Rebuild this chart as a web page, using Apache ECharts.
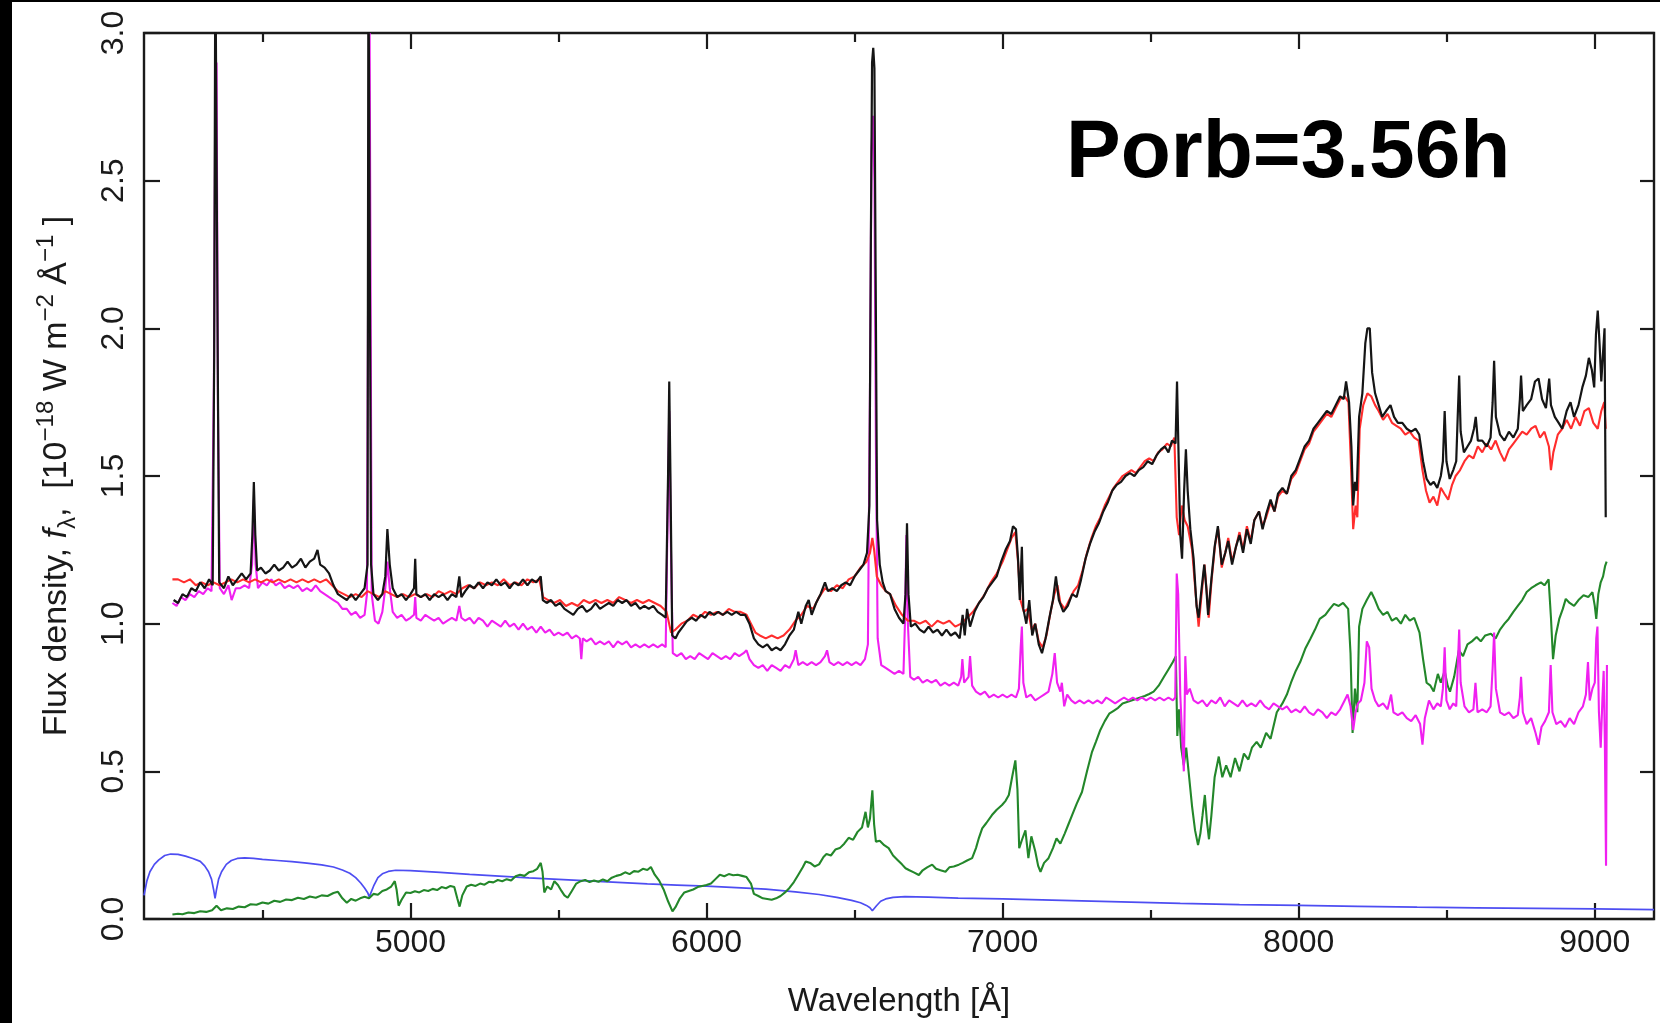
<!DOCTYPE html>
<html>
<head>
<meta charset="utf-8">
<title>Spectrum decomposition</title>
<script src="https://cdn.jsdelivr.net/npm/echarts@6/dist/echarts.min.js"></script>
<style>
  html, body { margin: 0; padding: 0; background: #fff; }
  #chart { width: 1660px; height: 1023px; }
</style>
</head>
<body>
<div id="chart"></div>
<script>
// Wavelength tick positions (Angstrom)
const waveMajorTicks = [5000, 6000, 7000, 8000, 9000];
const waveMinorTicks = [4500, 5500, 6500, 7500, 8500];

// Observed spectrum [wavelength, flux]
const observed = [
[4200,1.08],[4215,1.07],[4230,1.10],[4245,1.09],[4260,1.12],[4275,1.11],[4290,1.14],[4305,1.12],[4320,1.15],[4332,1.13],[4337,1.9],[4341,3.3],[4345,3.3],[4349,1.9],[4354,1.14],[4370,1.12],[4385,1.16],[4400,1.13],[4415,1.15],[4430,1.17],[4445,1.15],[4460,1.17],[4466,1.3],[4471,1.48],[4476,1.3],[4482,1.18],[4495,1.19],[4510,1.17],[4525,1.18],[4540,1.20],[4555,1.18],[4570,1.19],[4585,1.21],[4600,1.19],[4615,1.20],[4630,1.22],[4645,1.19],[4660,1.21],[4675,1.22],[4686,1.25],[4695,1.20],[4710,1.19],[4725,1.17],[4740,1.13],[4755,1.10],[4770,1.09],[4785,1.08],[4800,1.10],[4815,1.08],[4830,1.10],[4845,1.12],[4855,1.2],[4858,3.3],[4864,3.3],[4867,1.2],[4875,1.10],[4890,1.08],[4905,1.10],[4915,1.16],[4922,1.32],[4930,1.20],[4940,1.12],[4955,1.09],[4970,1.10],[4985,1.08],[5000,1.10],[5012,1.12],[5016,1.22],[5020,1.10],[5035,1.09],[5050,1.10],[5065,1.08],[5080,1.10],[5095,1.09],[5110,1.10],[5125,1.08],[5140,1.10],[5155,1.09],[5165,1.16],[5172,1.09],[5185,1.11],[5200,1.13],[5215,1.12],[5230,1.14],[5245,1.12],[5260,1.14],[5275,1.13],[5290,1.15],[5305,1.13],[5320,1.14],[5335,1.12],[5350,1.14],[5365,1.13],[5380,1.15],[5395,1.13],[5410,1.15],[5425,1.14],[5440,1.16],[5447,1.08],[5460,1.07],[5475,1.08],[5490,1.06],[5505,1.07],[5520,1.05],[5535,1.04],[5550,1.03],[5565,1.05],[5580,1.06],[5595,1.04],[5610,1.05],[5625,1.07],[5640,1.05],[5655,1.06],[5670,1.07],[5685,1.06],[5700,1.08],[5715,1.07],[5730,1.08],[5745,1.06],[5760,1.07],[5775,1.05],[5790,1.06],[5805,1.05],[5820,1.06],[5835,1.04],[5850,1.03],[5862,1.02],[5870,1.5],[5874,1.82],[5878,1.5],[5884,0.96],[5895,0.95],[5905,0.97],[5920,0.99],[5935,1.01],[5950,1.02],[5965,1.01],[5980,1.03],[5995,1.02],[6010,1.04],[6025,1.03],[6040,1.04],[6055,1.03],[6070,1.04],[6085,1.03],[6100,1.04],[6115,1.03],[6130,1.03],[6145,1.00],[6160,0.95],[6175,0.93],[6190,0.92],[6205,0.93],[6220,0.91],[6235,0.92],[6250,0.91],[6265,0.93],[6280,0.96],[6295,0.98],[6310,1.04],[6320,1.00],[6335,1.06],[6345,1.08],[6355,1.03],[6370,1.07],[6385,1.10],[6400,1.14],[6410,1.11],[6425,1.12],[6440,1.11],[6455,1.13],[6470,1.14],[6485,1.13],[6500,1.16],[6515,1.18],[6530,1.20],[6542,1.24],[6550,1.4],[6555,2.3],[6559,2.9],[6563,2.95],[6567,2.88],[6571,2.2],[6576,1.35],[6585,1.20],[6595,1.14],[6605,1.11],[6620,1.10],[6635,1.05],[6650,1.02],[6665,1.00],[6672,1.1],[6677,1.34],[6682,1.1],[6690,0.99],[6705,1.00],[6720,0.98],[6735,0.97],[6750,0.99],[6765,0.97],[6780,0.98],[6795,0.96],[6810,0.98],[6825,0.96],[6840,0.97],[6855,0.95],[6865,1.03],[6872,0.96],[6880,1.05],[6890,0.99],[6905,1.04],[6920,1.07],[6935,1.09],[6950,1.12],[6965,1.14],[6980,1.16],[6995,1.21],[7010,1.25],[7025,1.28],[7035,1.33],[7045,1.32],[7052,1.22],[7058,1.08],[7065,1.26],[7070,1.05],[7080,1.00],[7090,1.08],[7100,0.96],[7110,1.00],[7122,0.93],[7133,0.90],[7145,0.95],[7158,1.02],[7170,1.08],[7180,1.16],[7190,1.08],[7205,1.04],[7220,1.06],[7235,1.10],[7250,1.09],[7265,1.15],[7280,1.22],[7295,1.27],[7310,1.31],[7325,1.34],[7340,1.38],[7355,1.41],[7370,1.45],[7385,1.47],[7400,1.48],[7415,1.50],[7430,1.51],[7445,1.50],[7460,1.52],[7475,1.53],[7490,1.55],[7505,1.54],[7520,1.57],[7535,1.59],[7548,1.60],[7560,1.58],[7572,1.62],[7584,1.61],[7589,1.82],[7594,1.82],[7600,1.30],[7606,1.22],[7613,1.45],[7619,1.59],[7625,1.45],[7634,1.32],[7645,1.22],[7655,1.06],[7662,1.02],[7670,1.10],[7681,1.20],[7688,1.12],[7694,1.03],[7705,1.15],[7716,1.26],[7727,1.33],[7740,1.20],[7752,1.24],[7762,1.28],[7775,1.20],[7788,1.26],[7800,1.30],[7812,1.24],[7825,1.32],[7838,1.27],[7850,1.35],[7866,1.38],[7878,1.32],[7890,1.37],[7905,1.42],[7918,1.38],[7930,1.44],[7945,1.46],[7960,1.44],[7975,1.50],[7990,1.52],[8005,1.56],[8020,1.60],[8035,1.62],[8050,1.66],[8065,1.68],[8080,1.70],[8095,1.72],[8110,1.71],[8125,1.74],[8140,1.77],[8152,1.76],[8160,1.82],[8170,1.75],[8178,1.60],[8184,1.40],[8190,1.48],[8196,1.45],[8204,1.70],[8215,1.78],[8225,1.95],[8232,2.00],[8240,2.00],[8248,1.85],[8258,1.78],[8270,1.74],[8282,1.70],[8295,1.72],[8310,1.74],[8322,1.70],[8335,1.68],[8350,1.68],[8365,1.66],[8380,1.65],[8395,1.66],[8407,1.64],[8420,1.55],[8432,1.49],[8445,1.47],[8456,1.48],[8468,1.46],[8480,1.50],[8487,1.55],[8493,1.72],[8499,1.55],[8510,1.49],[8522,1.52],[8532,1.55],[8537,1.70],[8542,1.84],[8547,1.65],[8558,1.58],[8570,1.60],[8582,1.62],[8592,1.66],[8598,1.70],[8605,1.62],[8620,1.62],[8635,1.60],[8648,1.63],[8655,1.75],[8660,1.89],[8666,1.70],[8680,1.64],[8695,1.62],[8710,1.65],[8725,1.63],[8740,1.66],[8747,1.76],[8751,1.84],[8757,1.72],[8770,1.74],[8785,1.76],[8798,1.82],[8810,1.83],[8822,1.76],[8835,1.73],[8846,1.83],[8852,1.74],[8865,1.70],[8878,1.68],[8890,1.66],[8905,1.72],[8918,1.75],[8930,1.70],[8945,1.74],[8958,1.80],[8970,1.84],[8980,1.90],[8990,1.86],[8998,1.80],[9004,1.98],[9010,2.06],[9016,1.95],[9022,1.82],[9028,1.92],[9033,2.00],[9037,1.36]
];

// Summed model spectrum
const modelSum = [
[4196,1.15],[4215,1.15],[4235,1.14],[4255,1.15],[4275,1.13],[4295,1.14],[4315,1.13],[4335,1.14],[4355,1.13],[4375,1.14],[4395,1.15],[4415,1.14],[4435,1.15],[4455,1.14],[4475,1.15],[4495,1.14],[4515,1.15],[4535,1.14],[4555,1.15],[4575,1.14],[4595,1.15],[4615,1.14],[4635,1.15],[4655,1.14],[4675,1.15],[4695,1.14],[4715,1.15],[4735,1.13],[4755,1.11],[4775,1.10],[4795,1.09],[4815,1.10],[4835,1.09],[4855,1.11],[4875,1.10],[4895,1.09],[4915,1.11],[4935,1.10],[4955,1.09],[4975,1.10],[4995,1.09],[5015,1.10],[5035,1.09],[5055,1.10],[5075,1.09],[5095,1.11],[5115,1.10],[5135,1.11],[5155,1.10],[5175,1.12],[5195,1.13],[5215,1.12],[5235,1.14],[5255,1.13],[5275,1.14],[5295,1.13],[5315,1.15],[5335,1.13],[5355,1.14],[5375,1.13],[5395,1.15],[5415,1.14],[5435,1.15],[5448,1.09],[5465,1.08],[5485,1.07],[5505,1.08],[5525,1.06],[5545,1.07],[5565,1.06],[5585,1.08],[5605,1.07],[5625,1.08],[5645,1.07],[5665,1.08],[5685,1.07],[5705,1.09],[5725,1.08],[5745,1.07],[5765,1.08],[5785,1.07],[5805,1.08],[5825,1.07],[5845,1.06],[5865,1.04],[5880,0.97],[5895,0.98],[5915,1.00],[5935,1.01],[5955,1.03],[5975,1.02],[5995,1.04],[6015,1.03],[6035,1.04],[6055,1.03],[6075,1.05],[6095,1.04],[6115,1.04],[6135,1.03],[6150,1.00],[6165,0.97],[6180,0.96],[6200,0.95],[6220,0.96],[6240,0.95],[6260,0.96],[6280,0.98],[6300,1.01],[6320,1.03],[6340,1.06],[6360,1.05],[6380,1.09],[6400,1.12],[6420,1.11],[6440,1.13],[6460,1.12],[6480,1.15],[6500,1.16],[6520,1.19],[6540,1.21],[6552,1.24],[6560,1.29],[6566,1.25],[6575,1.16],[6590,1.13],[6605,1.11],[6620,1.10],[6640,1.06],[6660,1.03],[6680,1.01],[6700,1.01],[6720,1.00],[6740,1.01],[6760,0.99],[6780,1.01],[6800,1.00],[6820,1.01],[6840,0.99],[6860,1.00],[6880,1.02],[6900,1.04],[6920,1.07],[6940,1.10],[6960,1.14],[6980,1.17],[7000,1.21],[7015,1.25],[7030,1.29],[7043,1.31],[7052,1.21],[7060,1.08],[7072,1.04],[7085,1.05],[7098,0.98],[7110,1.00],[7122,0.94],[7135,0.92],[7148,0.96],[7162,1.04],[7175,1.10],[7185,1.13],[7195,1.07],[7210,1.05],[7225,1.08],[7240,1.11],[7255,1.13],[7270,1.18],[7285,1.24],[7300,1.29],[7315,1.33],[7330,1.36],[7345,1.40],[7360,1.43],[7375,1.46],[7390,1.48],[7405,1.50],[7420,1.51],[7435,1.52],[7450,1.51],[7465,1.53],[7480,1.55],[7495,1.56],[7510,1.55],[7525,1.58],[7540,1.59],[7555,1.61],[7568,1.60],[7580,1.63],[7588,1.36],[7596,1.30],[7605,1.40],[7615,1.35],[7625,1.33],[7640,1.25],[7652,1.10],[7662,0.99],[7672,1.10],[7682,1.20],[7690,1.10],[7696,1.02],[7706,1.15],[7718,1.27],[7728,1.32],[7740,1.19],[7752,1.24],[7762,1.29],[7775,1.21],[7788,1.26],[7800,1.31],[7812,1.25],[7825,1.33],[7838,1.28],[7850,1.35],[7866,1.38],[7878,1.33],[7890,1.36],[7905,1.41],[7918,1.38],[7930,1.43],[7945,1.45],[7960,1.44],[7975,1.49],[7990,1.51],[8005,1.55],[8020,1.59],[8035,1.61],[8050,1.65],[8065,1.67],[8080,1.69],[8095,1.71],[8110,1.70],[8125,1.73],[8140,1.76],[8155,1.77],[8168,1.75],[8176,1.55],[8184,1.32],[8192,1.40],[8198,1.36],[8206,1.66],[8218,1.74],[8232,1.78],[8245,1.77],[8258,1.74],[8270,1.72],[8285,1.69],[8300,1.71],[8315,1.68],[8330,1.67],[8345,1.66],[8360,1.64],[8375,1.65],[8390,1.63],[8405,1.62],[8418,1.52],[8430,1.45],[8442,1.41],[8455,1.43],[8468,1.40],[8480,1.46],[8492,1.44],[8505,1.42],[8518,1.47],[8530,1.50],[8545,1.52],[8560,1.55],[8575,1.57],[8590,1.56],[8605,1.60],[8620,1.58],[8635,1.61],[8650,1.59],[8665,1.62],[8680,1.58],[8695,1.55],[8710,1.59],[8725,1.61],[8740,1.63],[8755,1.65],[8770,1.64],[8785,1.66],[8800,1.67],[8815,1.63],[8830,1.65],[8845,1.60],[8852,1.52],[8860,1.58],[8875,1.64],[8890,1.66],[8905,1.69],[8920,1.66],[8935,1.70],[8950,1.67],[8965,1.72],[8980,1.73],[8995,1.68],[9010,1.66],[9022,1.72],[9032,1.75],[9037,1.66]
];

// Residual spectrum after subtracting the stellar components
const residual = [
[4196,1.07],[4210,1.06],[4225,1.09],[4240,1.08],[4255,1.10],[4270,1.09],[4285,1.11],[4300,1.10],[4315,1.12],[4328,1.11],[4336,1.8],[4341,2.87],[4345,2.9],[4350,1.7],[4356,1.12],[4370,1.10],[4385,1.13],[4396,1.08],[4410,1.12],[4425,1.12],[4440,1.13],[4455,1.12],[4465,1.2],[4471,1.42],[4477,1.2],[4485,1.12],[4500,1.14],[4515,1.13],[4530,1.15],[4545,1.13],[4560,1.14],[4575,1.12],[4590,1.13],[4605,1.12],[4620,1.13],[4635,1.11],[4650,1.12],[4665,1.11],[4680,1.13],[4695,1.11],[4710,1.10],[4725,1.09],[4740,1.08],[4755,1.07],[4770,1.05],[4785,1.05],[4800,1.03],[4815,1.04],[4830,1.02],[4845,1.03],[4853,1.1],[4858,2.4],[4862,3.0],[4865,2.2],[4869,1.1],[4880,1.01],[4892,1.00],[4905,1.04],[4915,1.12],[4922,1.21],[4930,1.12],[4940,1.04],[4955,1.02],[4970,1.03],[4985,1.01],[5000,1.02],[5012,1.03],[5016,1.09],[5020,1.02],[5035,1.01],[5050,1.03],[5065,1.02],[5080,1.01],[5095,1.02],[5110,1.00],[5125,1.01],[5140,1.02],[5155,1.01],[5165,1.06],[5172,1.02],[5185,1.01],[5200,1.02],[5215,1.00],[5230,1.02],[5245,1.01],[5260,0.99],[5275,1.01],[5290,1.00],[5305,0.99],[5320,1.01],[5335,0.99],[5350,1.00],[5365,0.98],[5380,1.00],[5395,0.98],[5410,0.99],[5425,0.97],[5440,0.99],[5455,0.97],[5470,0.98],[5485,0.96],[5500,0.97],[5515,0.96],[5530,0.97],[5545,0.95],[5560,0.96],[5572,0.95],[5577,0.88],[5582,0.95],[5595,0.94],[5610,0.95],[5625,0.93],[5640,0.94],[5655,0.93],[5670,0.94],[5685,0.92],[5700,0.94],[5715,0.93],[5730,0.94],[5745,0.92],[5760,0.93],[5775,0.92],[5790,0.93],[5805,0.92],[5820,0.93],[5835,0.92],[5850,0.93],[5862,0.92],[5869,1.4],[5874,1.72],[5879,1.3],[5886,0.90],[5900,0.89],[5915,0.90],[5930,0.88],[5945,0.89],[5960,0.88],[5975,0.90],[5990,0.89],[6005,0.88],[6020,0.90],[6035,0.89],[6050,0.88],[6065,0.89],[6080,0.88],[6095,0.90],[6110,0.89],[6125,0.90],[6135,0.91],[6145,0.88],[6160,0.86],[6175,0.85],[6190,0.86],[6205,0.84],[6220,0.86],[6235,0.85],[6250,0.84],[6265,0.86],[6280,0.85],[6295,0.88],[6301,0.91],[6310,0.86],[6325,0.87],[6340,0.86],[6355,0.87],[6370,0.86],[6385,0.87],[6400,0.89],[6407,0.91],[6415,0.87],[6430,0.86],[6445,0.87],[6460,0.86],[6475,0.87],[6490,0.86],[6505,0.87],[6520,0.86],[6535,0.88],[6545,0.93],[6552,1.8],[6557,2.6],[6562,2.72],[6567,2.5],[6572,1.6],[6578,0.95],[6590,0.86],[6605,0.85],[6620,0.84],[6635,0.83],[6650,0.84],[6665,0.83],[6670,1.0],[6675,1.3],[6680,1.0],[6688,0.82],[6700,0.81],[6715,0.82],[6730,0.80],[6745,0.81],[6760,0.80],[6775,0.81],[6790,0.79],[6805,0.80],[6820,0.79],[6835,0.80],[6850,0.79],[6860,0.82],[6864,0.88],[6870,0.80],[6885,0.82],[6890,0.89],[6897,0.79],[6910,0.77],[6925,0.76],[6940,0.77],[6955,0.75],[6970,0.76],[6985,0.75],[7000,0.76],[7015,0.75],[7030,0.76],[7045,0.75],[7055,0.78],[7061,0.92],[7065,0.99],[7070,0.80],[7080,0.75],[7095,0.76],[7110,0.74],[7125,0.75],[7140,0.76],[7155,0.77],[7168,0.83],[7176,0.90],[7184,0.80],[7195,0.77],[7200,0.80],[7208,0.72],[7218,0.76],[7232,0.74],[7245,0.73],[7260,0.74],[7275,0.73],[7290,0.74],[7305,0.73],[7320,0.74],[7335,0.73],[7350,0.75],[7365,0.74],[7380,0.73],[7395,0.74],[7410,0.75],[7425,0.74],[7440,0.75],[7455,0.74],[7470,0.75],[7485,0.74],[7500,0.75],[7515,0.74],[7530,0.75],[7545,0.74],[7560,0.75],[7575,0.74],[7583,0.75],[7588,1.17],[7593,1.10],[7600,0.76],[7607,0.60],[7612,0.50],[7617,0.89],[7622,0.76],[7632,0.78],[7645,0.74],[7660,0.73],[7675,0.74],[7690,0.72],[7705,0.74],[7720,0.73],[7735,0.75],[7750,0.72],[7765,0.74],[7780,0.73],[7795,0.72],[7810,0.74],[7825,0.72],[7840,0.73],[7855,0.72],[7870,0.74],[7885,0.72],[7900,0.71],[7915,0.73],[7930,0.72],[7945,0.71],[7960,0.72],[7975,0.70],[7990,0.71],[8005,0.70],[8020,0.72],[8035,0.70],[8050,0.69],[8065,0.71],[8080,0.70],[8095,0.68],[8110,0.70],[8125,0.69],[8140,0.71],[8155,0.74],[8165,0.76],[8175,0.72],[8184,0.64],[8192,0.70],[8200,0.73],[8210,0.74],[8222,0.80],[8230,0.94],[8238,0.92],[8246,0.78],[8258,0.74],[8270,0.72],[8285,0.73],[8300,0.71],[8312,0.76],[8320,0.70],[8335,0.69],[8350,0.70],[8365,0.68],[8380,0.67],[8395,0.69],[8410,0.66],[8418,0.59],[8426,0.68],[8440,0.74],[8455,0.71],[8468,0.73],[8480,0.72],[8487,0.78],[8493,0.92],[8499,0.74],[8510,0.71],[8522,0.73],[8532,0.72],[8537,0.85],[8542,0.98],[8547,0.80],[8560,0.72],[8575,0.70],[8590,0.71],[8597,0.80],[8604,0.70],[8620,0.71],[8635,0.70],[8648,0.72],[8655,0.85],[8660,0.97],[8666,0.78],[8680,0.70],[8695,0.69],[8710,0.70],[8725,0.68],[8740,0.69],[8747,0.75],[8751,0.82],[8757,0.70],[8770,0.66],[8785,0.68],[8800,0.63],[8810,0.59],[8820,0.65],[8832,0.67],[8845,0.70],[8851,0.86],[8857,0.70],[8870,0.66],[8885,0.67],[8900,0.65],[8915,0.68],[8930,0.66],[8945,0.70],[8960,0.72],[8970,0.76],[8977,0.87],[8983,0.74],[8992,0.78],[9000,0.80],[9005,0.95],[9009,0.99],[9014,0.70],[9020,0.58],[9026,0.75],[9030,0.84],[9034,0.60],[9038,0.18],[9041,0.86]
];

// Secondary star template
const secondary = [
[4196,0.015],[4215,0.018],[4230,0.016],[4250,0.022],[4270,0.020],[4290,0.026],[4310,0.024],[4330,0.030],[4345,0.045],[4360,0.030],[4380,0.036],[4400,0.034],[4420,0.042],[4440,0.040],[4460,0.050],[4480,0.048],[4500,0.056],[4520,0.052],[4540,0.062],[4560,0.058],[4580,0.066],[4600,0.064],[4620,0.072],[4640,0.068],[4660,0.076],[4680,0.072],[4700,0.080],[4720,0.078],[4740,0.088],[4755,0.092],[4770,0.070],[4785,0.055],[4800,0.068],[4815,0.062],[4830,0.070],[4845,0.075],[4860,0.070],[4875,0.085],[4890,0.082],[4905,0.095],[4920,0.100],[4935,0.110],[4947,0.128],[4953,0.100],[4960,0.045],[4970,0.065],[4985,0.090],[5000,0.088],[5015,0.094],[5030,0.090],[5045,0.098],[5060,0.095],[5075,0.102],[5090,0.098],[5105,0.108],[5120,0.104],[5135,0.112],[5148,0.108],[5158,0.070],[5166,0.042],[5175,0.080],[5190,0.110],[5205,0.116],[5220,0.112],[5235,0.120],[5250,0.116],[5265,0.126],[5280,0.124],[5295,0.132],[5310,0.128],[5325,0.135],[5340,0.130],[5355,0.145],[5370,0.150],[5385,0.146],[5400,0.158],[5415,0.162],[5428,0.170],[5440,0.190],[5446,0.160],[5452,0.090],[5462,0.110],[5475,0.100],[5486,0.128],[5498,0.115],[5510,0.095],[5520,0.080],[5531,0.072],[5545,0.095],[5560,0.120],[5575,0.128],[5590,0.132],[5605,0.125],[5620,0.130],[5635,0.126],[5650,0.134],[5665,0.128],[5680,0.140],[5695,0.146],[5710,0.150],[5725,0.158],[5740,0.152],[5755,0.162],[5770,0.160],[5785,0.170],[5800,0.166],[5812,0.176],[5825,0.150],[5840,0.130],[5855,0.100],[5870,0.060],[5885,0.026],[5895,0.040],[5910,0.070],[5925,0.090],[5940,0.095],[5955,0.100],[5970,0.108],[5985,0.112],[6000,0.115],[6015,0.120],[6030,0.135],[6045,0.150],[6060,0.145],[6075,0.152],[6090,0.148],[6105,0.150],[6120,0.146],[6135,0.142],[6150,0.120],[6160,0.085],[6175,0.078],[6190,0.070],[6205,0.068],[6220,0.065],[6235,0.070],[6250,0.078],[6265,0.090],[6280,0.105],[6295,0.125],[6310,0.150],[6325,0.175],[6335,0.195],[6350,0.190],[6365,0.178],[6380,0.185],[6395,0.210],[6405,0.220],[6420,0.215],[6435,0.235],[6450,0.240],[6465,0.255],[6480,0.275],[6495,0.268],[6510,0.295],[6525,0.310],[6537,0.363],[6545,0.310],[6552,0.340],[6560,0.436],[6566,0.320],[6572,0.262],[6585,0.265],[6600,0.250],[6615,0.240],[6630,0.215],[6645,0.200],[6660,0.185],[6672,0.172],[6685,0.165],[6700,0.158],[6717,0.149],[6730,0.165],[6745,0.175],[6762,0.184],[6775,0.170],[6790,0.165],[6807,0.160],[6820,0.175],[6835,0.178],[6852,0.184],[6865,0.190],[6880,0.198],[6897,0.206],[6910,0.240],[6920,0.275],[6931,0.307],[6945,0.325],[6964,0.352],[6980,0.370],[6998,0.386],[7010,0.400],[7021,0.420],[7032,0.480],[7043,0.537],[7050,0.440],[7056,0.240],[7066,0.270],[7077,0.300],[7087,0.206],[7097,0.280],[7110,0.230],[7120,0.180],[7128,0.160],[7140,0.190],[7155,0.206],[7170,0.240],[7182,0.273],[7195,0.255],[7210,0.290],[7222,0.320],[7234,0.350],[7250,0.390],[7268,0.430],[7285,0.500],[7302,0.566],[7315,0.600],[7330,0.640],[7345,0.670],[7360,0.695],[7375,0.705],[7390,0.715],[7405,0.730],[7420,0.735],[7435,0.740],[7450,0.745],[7465,0.750],[7480,0.755],[7495,0.762],[7510,0.770],[7527,0.790],[7545,0.820],[7560,0.845],[7575,0.870],[7585,0.890],[7590,0.620],[7596,0.710],[7603,0.580],[7612,0.520],[7620,0.580],[7630,0.480],[7640,0.380],[7650,0.300],[7660,0.250],[7668,0.290],[7675,0.350],[7683,0.420],[7690,0.330],[7697,0.270],[7705,0.350],[7716,0.480],[7730,0.550],[7742,0.480],[7755,0.520],[7770,0.480],[7785,0.545],[7800,0.500],[7815,0.560],[7830,0.540],[7842,0.580],[7858,0.600],[7872,0.580],[7890,0.630],[7905,0.610],[7926,0.700],[7945,0.730],[7960,0.760],[7974,0.800],[7990,0.840],[8005,0.870],[8022,0.915],[8040,0.950],[8055,0.980],[8071,1.016],[8090,1.030],[8105,1.050],[8119,1.067],[8135,1.060],[8150,1.070],[8167,1.050],[8175,0.900],[8182,0.630],[8190,0.780],[8198,0.700],[8204,0.990],[8215,1.050],[8230,1.080],[8245,1.107],[8258,1.080],[8270,1.050],[8285,1.030],[8300,1.040],[8315,1.010],[8330,1.020],[8345,1.000],[8360,1.030],[8375,1.010],[8390,1.020],[8408,0.970],[8420,0.880],[8432,0.800],[8445,0.790],[8456,0.770],[8470,0.830],[8480,0.800],[8493,0.840],[8503,0.790],[8511,0.770],[8525,0.820],[8541,0.910],[8555,0.890],[8570,0.930],[8585,0.940],[8601,0.955],[8615,0.940],[8630,0.960],[8649,0.966],[8665,0.950],[8680,0.980],[8695,1.000],[8709,1.016],[8725,1.040],[8740,1.060],[8755,1.080],[8770,1.107],[8785,1.120],[8800,1.130],[8818,1.140],[8830,1.130],[8844,1.150],[8852,1.020],[8859,0.880],[8868,0.960],[8880,1.016],[8892,1.050],[8902,1.084],[8915,1.070],[8930,1.060],[8945,1.080],[8962,1.096],[8978,1.090],[8992,1.107],[9000,1.060],[9005,1.016],[9012,1.100],[9020,1.140],[9028,1.160],[9035,1.196],[9040,1.210]
];

// White dwarf model atmosphere
const whiteDwarf = [
[4100,0.08],[4110,0.13],[4120,0.16],[4135,0.185],[4150,0.20],[4170,0.215],[4190,0.22],[4215,0.219],[4240,0.213],[4265,0.205],[4290,0.195],[4305,0.18],[4318,0.16],[4328,0.135],[4335,0.10],[4340,0.07],[4345,0.10],[4352,0.135],[4362,0.16],[4378,0.185],[4395,0.198],[4415,0.205],[4440,0.207],[4470,0.205],[4500,0.202],[4550,0.198],[4600,0.194],[4650,0.189],[4700,0.183],[4740,0.176],[4770,0.166],[4795,0.155],[4815,0.14],[4832,0.122],[4845,0.105],[4855,0.09],[4861,0.075],[4867,0.09],[4877,0.115],[4890,0.14],[4905,0.153],[4925,0.161],[4950,0.165],[5000,0.164],[5100,0.158],[5200,0.151],[5300,0.145],[5400,0.139],[5500,0.134],[5600,0.129],[5700,0.124],[5800,0.119],[5900,0.115],[6000,0.111],[6100,0.106],[6200,0.101],[6300,0.092],[6380,0.083],[6440,0.073],[6490,0.063],[6520,0.055],[6540,0.046],[6552,0.038],[6560,0.028],[6566,0.032],[6574,0.045],[6588,0.06],[6605,0.068],[6630,0.073],[6670,0.076],[6750,0.074],[6850,0.071],[7000,0.068],[7200,0.063],[7400,0.058],[7600,0.053],[7800,0.049],[8000,0.046],[8200,0.043],[8400,0.04],[8600,0.038],[8800,0.036],[9000,0.034],[9200,0.032]
];

const TXT = '#1a1a1a';
const FONT = '"Liberation Sans", Arial, Helvetica, sans-serif';

function waveAxis(position, ticks, len, withLabels) {
  return {
    type: 'value', position: position, min: 4100, max: 9200, gridIndex: 0,
    axisLine: { show: false },
    splitLine: { show: false },
    axisTick: { show: true, inside: true, length: len, customValues: ticks,
                lineStyle: { color: TXT, width: 2.2 } },
    axisLabel: withLabels ? {
      show: true, customValues: ticks, margin: 8,
      color: TXT, fontSize: 32, fontFamily: FONT,
      formatter: v => String(Math.round(v))
    } : { show: false }
  };
}

const bottomAxis = waveAxis('bottom', waveMajorTicks, 16, true);
bottomAxis.name = 'Wavelength [Å]';
bottomAxis.nameLocation = 'middle';
bottomAxis.nameGap = 66;
bottomAxis.nameTextStyle = { color: TXT, fontSize: 33, fontFamily: FONT };

function fluxAxis(position, len, withLabels) {
  return {
    type: 'value', position: position, min: 0, max: 3, interval: 0.5, gridIndex: 0,
    axisLine: { show: false },
    splitLine: { show: false },
    axisTick: { show: true, inside: true, length: len, lineStyle: { color: TXT, width: 2.2 } },
    axisLabel: withLabels ? {
      show: true, rotate: 90, margin: 14, color: TXT, fontSize: 32, fontFamily: FONT,
      formatter: v => v.toFixed(1)
    } : { show: false }
  };
}

const leftAxis = fluxAxis('left', 16, true);
leftAxis.name = '{n|Flux density, }{it|f}{sub|λ}{n|,  [10}{sup|−18}{n| W m}{sup|−2}{n| Å}{sup|−1}{n| ]}';
leftAxis.nameLocation = 'middle';
leftAxis.nameRotate = 90;
leftAxis.nameGap = 64;
leftAxis.nameTextStyle = {
  color: TXT, fontFamily: FONT, fontSize: 34,
  rich: {
    n:   { color: TXT, fontFamily: FONT, fontSize: 34, lineHeight: 46 },
    it:  { color: TXT, fontFamily: FONT, fontSize: 34, lineHeight: 46, fontStyle: 'italic' },
    sub: { color: TXT, fontFamily: FONT, fontSize: 24, lineHeight: 24, verticalAlign: 'bottom' },
    sup: { color: TXT, fontFamily: FONT, fontSize: 24, lineHeight: 24, verticalAlign: 'top' }
  }
};

function spectrum(name, data, color, width) {
  return {
    name: name, type: 'line', data: data, xAxisIndex: 0, yAxisIndex: 0,
    showSymbol: false, symbol: 'none', clip: true, silent: true,
    lineStyle: { color: color, width: width },
    emphasis: { disabled: true }
  };
}

const chart = echarts.init(document.getElementById('chart'), null, { renderer: 'canvas' });
chart.setOption({
  animation: false,
  backgroundColor: '#ffffff',
  grid: {
    left: 144, right: 6, top: 33, bottom: 103,
    show: true, borderColor: TXT, borderWidth: 2.4, backgroundColor: 'transparent'
  },
  xAxis: [
    bottomAxis,
    waveAxis('bottom', waveMinorTicks, 9, false),
    waveAxis('top', waveMajorTicks, 16, false),
    waveAxis('top', waveMinorTicks, 9, false)
  ],
  yAxis: [
    leftAxis,
    fluxAxis('right', 14, false)
  ],
  series: [
    spectrum('White dwarf', whiteDwarf, '#4d4df2', 1.7),
    spectrum('Secondary', secondary, '#23872a', 2.1),
    spectrum('Residual', residual, '#f020f0', 2.1),
    spectrum('Model', modelSum, '#ff2d2d', 2.1),
    spectrum('Observed', observed, '#151515', 2.2)
  ],
  graphic: [
    { type: 'rect', left: 0, top: 0, shape: { width: 12, height: 1023 }, style: { fill: '#000' }, silent: true },
    { type: 'rect', left: 0, top: 0, shape: { width: 1660, height: 2 }, style: { fill: '#000' }, silent: true },
    {
      type: 'text', left: 1066, top: 113, silent: true,
      style: { text: 'Porb=3.56h', fill: '#000', font: 'bold 82px "Liberation Sans", Arial, sans-serif' }
    }
  ]
});
</script>
</body>
</html>
